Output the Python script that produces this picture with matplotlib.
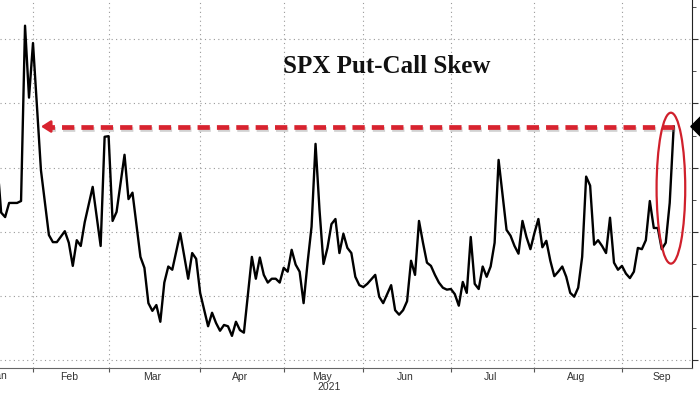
import numpy as np
import matplotlib
matplotlib.use("Agg")
import matplotlib.pyplot as plt
from matplotlib.patches import Ellipse
import matplotlib.patheffects as pe

# trading day index (0 = first trading day of Jan 2021) and skew value
day = [10, 11, 12, 13, 15, 16, 17, 18, 19, 21, 23, 24, 25, 27, 28, 29, 30, 31, 32, 34,
       36, 37, 38, 39, 40, 42, 43, 44, 46, 47, 48, 49, 50, 51, 52, 53, 54, 56, 58, 59,
       60, 61, 63, 64, 65, 66, 67, 68, 69, 70, 71, 72, 74, 75, 76, 77, 78, 79, 80, 81,
       82, 83, 84, 85, 86, 87, 88, 89, 90, 91, 92, 93, 94, 95, 96, 97, 98, 99, 100, 101,
       102, 103, 105, 106, 107, 109, 110, 111, 112, 113, 114, 115, 116, 117, 118, 119, 120, 121, 122, 123,
       124, 125, 126, 127, 128, 129, 130, 131, 132, 133, 134, 135, 136, 138, 139, 140, 141, 142, 143, 144,
       145, 146, 147, 148, 149, 150, 151, 152, 153, 154, 155, 156, 157, 158, 159, 160, 161, 162, 163, 164,
       165, 166, 167, 168, 169, 170, 171, 172, 173, 174, 175, 176, 177, 178, 179, 180]
skew = [5.10, 4.30, 4.23, 4.45, 4.45, 4.48, 7.21, 6.09, 6.94, 4.96, 3.95, 3.84, 3.84, 4.01, 3.83, 3.47, 3.87, 3.78, 4.15, 4.70,
        3.78, 5.48, 5.49, 4.17, 4.31, 5.20, 4.51, 4.61, 3.61, 3.44, 2.89, 2.77, 2.86, 2.60, 3.21, 3.46, 3.41, 3.98, 3.27, 3.67,
        3.58, 3.05, 2.53, 2.74, 2.58, 2.46, 2.55, 2.53, 2.38, 2.60, 2.47, 2.43, 3.61, 3.27, 3.60, 3.33, 3.21, 3.27, 3.27, 3.21,
        3.44, 3.38, 3.72, 3.49, 3.38, 2.89, 3.52, 4.08, 5.37, 4.34, 3.50, 3.75, 4.12, 4.20, 3.67, 3.97, 3.75, 3.67, 3.30, 3.17,
        3.14, 3.19, 3.33, 2.99, 2.89, 3.17, 2.78, 2.71, 2.78, 2.92, 3.55, 3.33, 4.17, 3.83, 3.52, 3.47, 3.33, 3.21, 3.13, 3.10,
        3.11, 3.03, 2.85, 3.22, 3.05, 3.92, 3.19, 3.11, 3.46, 3.30, 3.46, 3.83, 5.12, 4.03, 3.94, 3.78, 3.66, 4.17, 3.92, 3.73,
        3.98, 4.20, 3.76, 3.86, 3.55, 3.31, 3.38, 3.46, 3.30, 3.05, 2.99, 3.13, 3.61, 4.86, 4.72, 3.80, 3.87, 3.78, 3.67, 4.22,
        3.52, 3.41, 3.47, 3.35, 3.28, 3.38, 3.75, 3.73, 3.87, 4.48, 4.06, 4.06, 3.73, 3.83, 4.45, 5.64]

# first trading day of each month
month_start = [0, 19, 38, 61, 82, 102, 124, 145, 167, 188]
month_names = ['Jan', 'Feb', 'Mar', 'Apr', 'May', 'Jun', 'Jul', 'Aug', 'Sep']
y_grid = [2, 3, 4, 5, 6, 7]

red = '#d8232f'

fig = plt.figure(figsize=(7, 3.94), dpi=100)
ax = fig.add_axes([0, 0.066, 0.98857, 0.934])

ax.plot(day, skew, c='black', lw=1.7, zorder=3)

# grid / axes
ax.set_xticks(month_start[:-1])
ax.set_xticklabels([])
mids = [(month_start[k] + month_start[k + 1] - 1) / 2 for k in range(len(month_names))]
ax.set_xticks(mids, minor=True)
ax.set_xticklabels(month_names, minor=True, fontsize=7.5, family='Liberation Sans', color='#333333')
ax.tick_params(axis='x', which='major', direction='out', length=3, color='#555555')
ax.tick_params(axis='x', which='minor', length=0, pad=3)

ax.yaxis.tick_right()
ax.set_yticks(y_grid)
ax.set_yticks([v + 0.5 for v in y_grid], minor=True)
ax.set_yticklabels([str(v) for v in y_grid], fontsize=8, color='#333333')
ax.tick_params(axis='y', which='major', direction='out', length=4, color='#333333', pad=3)
ax.tick_params(axis='y', which='minor', direction='out', length=3, color='#333333')

# limits after the ticks, set_xticks widens the view otherwise
ax.set_xlim(10.71, 184.6)
ax.set_ylim(1.88, 7.61)

ax.grid(True, which='major', color='#9a9a9a', lw=0.8, ls=(0, (1, 3)))
for s in ['top', 'left']:
    ax.spines[s].set_visible(False)
ax.spines['bottom'].set_color('#666666')
ax.spines['right'].set_color('#222222')

# Jan label sits left of the view, only its tail shows
ax.text(mids[0] + 1.5, -0.021, month_names[0], transform=ax.get_xaxis_transform(), ha='center', va='center',
        fontsize=7.5, family='Liberation Sans', color='#333333', clip_on=False)
ax.text((month_start[0] + month_start[-1] - 1) / 2, -0.052, '2021', transform=ax.get_xaxis_transform(),
        ha='center', va='center', fontsize=7.5, family='Liberation Sans', color='#333333')

# last value marker on the right axis
ax.annotate(' ', xy=(1.0, skew[-1]), xycoords=ax.get_yaxis_transform(), xytext=(5, 0),
            textcoords='offset points', va='center', ha='left', fontsize=7, annotation_clip=False,
            bbox=dict(boxstyle='larrow,pad=0.25', fc='black', ec='black'))

# dashed arrow at the last value back to January
arrow_end = 21
shadow = [pe.SimpleLineShadow(offset=(1, -1.5), shadow_color='gray', alpha=0.35), pe.Normal()]
ax.plot([day[-1], arrow_end + 2.2], [skew[-1], skew[-1]], color=red, lw=3.4,
        ls=(0, (2.6, 1.5)), zorder=4, path_effects=shadow)
ax.annotate('', xy=(arrow_end, skew[-1]), xytext=(arrow_end + 2.6, skew[-1]),
            arrowprops=dict(arrowstyle='-|>,head_length=0.55,head_width=0.35', color=red, lw=2,
                            shrinkA=0, shrinkB=0), zorder=4)

# red ring round the last jump
ring = Ellipse((179.3, 4.68), width=7.2, height=2.35, fill=False, ec='#d0202c', lw=1.6, zorder=5)
ax.add_patch(ring)

fig.text(0.553, 0.8147, 'SPX Put-Call Skew', ha='center', va='baseline', fontsize=18,
         family='Liberation Serif', weight='bold', color='#111111')

plt.savefig('out.png', dpi=100)
